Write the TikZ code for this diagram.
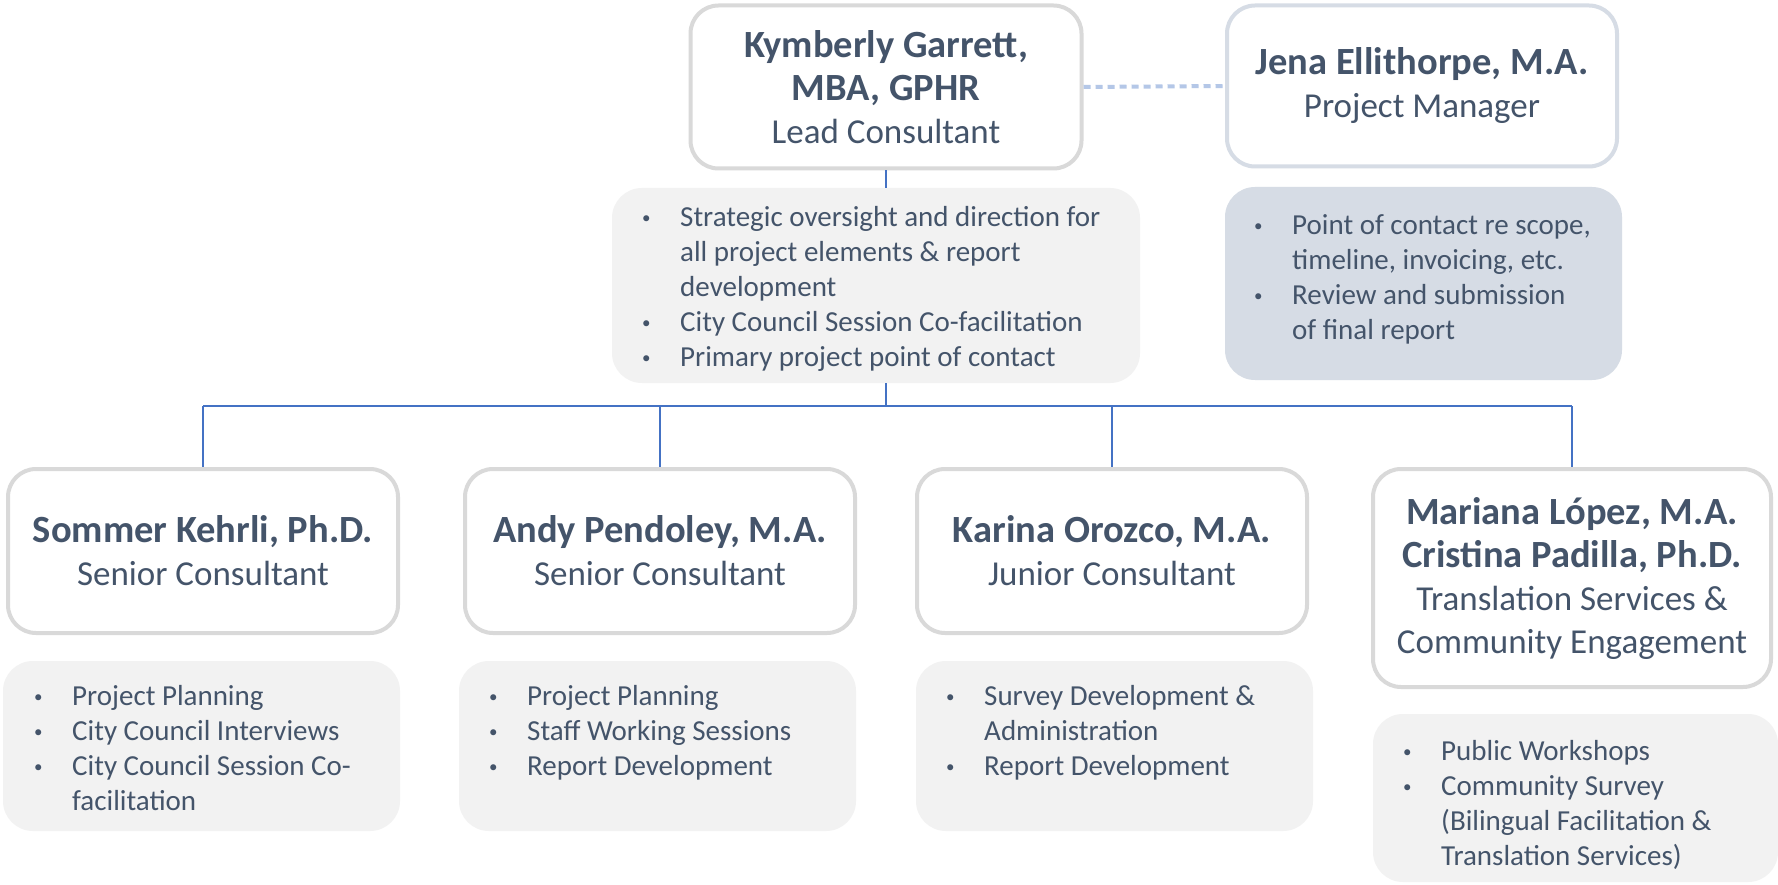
\documentclass[tikz,border=0pt]{standalone}
\usepackage{fontspec}
\setmainfont{Carlito}
\definecolor{txt}{HTML}{44546A}
\definecolor{boxgray}{HTML}{D9D9D9}
\definecolor{jenaborder}{HTML}{D6DCE5}
\definecolor{infogray}{HTML}{F2F2F2}
\definecolor{jenafill}{HTML}{D6DCE5}
\definecolor{linkblue}{HTML}{4472C4}
\definecolor{dashblue}{HTML}{B4C7E7}
\newcommand\nm{\fontsize{38.5}{43}\selectfont\bfseries}
\newcommand\rl{\fontsize{35}{43}\selectfont\mdseries}
\newcommand\bu{\raisebox{3pt}{\fontsize{17}{35}\selectfont\textbullet}}
\newenvironment{blist}{\begin{tabular}[t]{@{}p{38pt}@{}l@{}}}{\end{tabular}}
\tikzset{
  pbox/.style={draw=boxgray, line width=4pt, rounded corners=28pt, fill=white,
    align=center, text=txt, inner sep=0pt, font=\fontsize{35}{43}\selectfont},
  jbox/.style={pbox, draw=jenaborder},
  ibox/.style={fill=infogray, draw=none, rounded corners=30pt, inner sep=0pt},
  itext/.style={anchor=base west, inner sep=0pt, text=txt, font=\fontsize{29}{35}\selectfont},
  link/.style={draw=linkblue, line width=2pt},
  dlink/.style={draw=dashblue, line width=4pt, dash pattern=on 7pt off 5pt},
}
\begin{document}
\begin{tikzpicture}[x=1pt,y=-1pt]
\useasboundingbox[fill=white] (0,0) rectangle (1778,885);
% top row
\node[pbox, minimum width=391pt, minimum height=163pt] (top) at (886,87)
  {\nm Kymberly Garrett,\\ \nm MBA, GPHR\\ \rl Lead Consultant};
\node[jbox, minimum width=390pt, minimum height=161pt] (jena) at (1422,86)
  {\nm Jena Ellithorpe, M.A.\\ \rl Project Manager};
\node[ibox, minimum width=528pt, minimum height=195pt] (lead) at (876,285.5) {};
\node[itext] (leadt) at (642,227) {\begin{blist}
\bu & Strategic oversight and direction for\\
 & all project elements \& report\\
 & development\\
\bu & City Council Session Co-facilitation\\
\bu & Primary project point of contact
\end{blist}};
\node[ibox, fill=jenafill, minimum width=397pt, minimum height=193pt] (jinfo) at (1423.5,283.5) {};
\node[itext] (jinfot) at (1254,235) {\begin{blist}
\bu & Point of contact re scope,\\
 & timeline, invoicing, etc.\\
\bu & Review and submission\\
 & of final report
\end{blist}};
% bottom row
\node[pbox, minimum width=390pt, minimum height=164pt] (b1) at (203,551)
  {\nm Sommer Kehrli, Ph.D.\\ \rl Senior Consultant};
\node[pbox, minimum width=390pt, minimum height=164pt] (b2) at (660,551)
  {\nm Andy Pendoley, M.A.\\ \rl Senior Consultant};
\node[pbox, minimum width=390pt, minimum height=164pt] (b3) at (1112,551)
  {\nm Karina Orozco, M.A.\\ \rl Junior Consultant};
\node[pbox, minimum width=398pt, minimum height=218pt] (b4) at (1572,578)
  {\nm Mariana López, M.A.\\ \nm Cristina Padilla, Ph.D.\\ \rl Translation Services \&\\ \rl Community Engagement};
\node[ibox, minimum width=397pt, minimum height=170pt] (i1) at (201.5,746) {};
\node[itext] (i1t) at (34,705) {\begin{blist}
\bu & Project Planning\\
\bu & City Council Interviews\\
\bu & City Council Session Co-\\
 & facilitation
\end{blist}};
\node[ibox, minimum width=397pt, minimum height=170pt] (i2) at (657.5,746) {};
\node[itext] (i2t) at (489,705) {\begin{blist}
\bu & Project Planning\\
\bu & Staff Working Sessions\\
\bu & Report Development
\end{blist}};
\node[ibox, minimum width=397pt, minimum height=170pt] (i3) at (1114.5,746) {};
\node[itext] (i3t) at (946,705) {\begin{blist}
\bu & Survey Development \&\\
 & Administration\\
\bu & Report Development
\end{blist}};
\node[ibox, minimum width=405pt, minimum height=168pt] (i4) at (1575.5,798) {};
\node[itext] (i4t) at (1403,760) {\begin{blist}
\bu & Public Workshops\\
\bu & Community Survey\\
 & (Bilingual Facilitation \&\\
 & Translation Services)
\end{blist}};
% connectors
\coordinate (j) at (886,406);
\draw[dlink] (top.east) -- (jena.west);
\draw[link] (top.south) -- (top.south |- lead.north);
\draw[link] (top.south |- lead.south) -- (j);
\draw[link] (b1.north |- j) -- (b4.north |- j);
\draw[link] (b1.north |- j) -- (b1.north);
\draw[link] (b2.north |- j) -- (b2.north);
\draw[link] (b3.north |- j) -- (b3.north);
\draw[link] (b4.north |- j) -- (b4.north);
\end{tikzpicture}
\end{document}
